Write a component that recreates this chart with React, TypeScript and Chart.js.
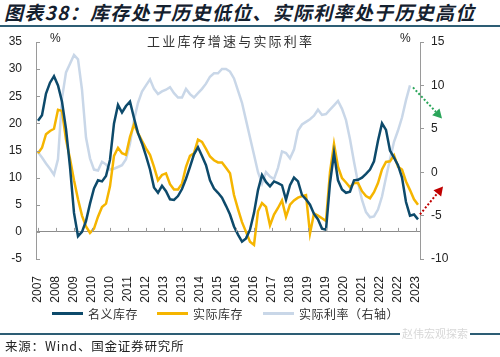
import React, { useEffect, useRef } from "react";
import { Chart, registerables } from "chart.js";

Chart.register(...registerables);

const xTickLabels = [
  "2007", "2008", "2009", "2010", "2010", "2011", "2012", "2013", "2013", "2014", "2015",
  "2016", "2016", "2017", "2018", "2019", "2019", "2020", "2021", "2022", "2022", "2023",
];

// 名义库存 (% y/y), every second month
const nominalInventory = [
  20.5, 21.5, 25.5, 27.5, 28.7, 27.0, 24.0, 19.0, 12.0, 3.5,
  -0.8, 0.0, 2.0, 5.2, 8.0, 9.5, 9.3, 10.3, 13.3, 20.0,
  23.4, 22.0, 23.2, 24.0, 21.0, 18.2, 16.3, 14.0, 11.5, 8.2,
  7.2, 8.5, 7.5, 6.0, 5.9, 6.6, 7.9, 9.8, 12.0, 14.3,
  15.6, 14.0, 12.3, 9.5, 8.0, 7.2, 6.3, 4.8, 3.2, 1.0,
  -0.5, -1.8, -1.2, 0.4, 3.5, 7.7, 10.5, 9.2, 8.4, 9.3,
  9.0, 8.6, 5.9, 8.6, 10.0, 9.3, 6.8, 6.0, 5.0, 3.3,
  2.3, 0.6, 0.4, 9.0, 14.5, 9.5, 7.8, 7.2, 7.4, 9.5,
  9.6, 10.0, 10.7, 11.5, 13.0, 16.8, 20.0, 18.8, 15.0, 13.7,
  12.3, 10.0, 5.5, 3.0, 3.2, 2.3,
];

// 实际库存 (% y/y)
const realInventory = [
  14.5, 15.5, 18.0, 18.6, 19.0, 22.5, 22.3, 17.0, 13.5, 9.5,
  6.0, 3.0, 1.0, -0.2, 0.6, 2.8, 4.6, 5.2, 8.4, 14.0,
  15.5, 14.5, 14.2, 17.5, 19.8, 18.2, 16.8, 15.4, 14.2, 12.0,
  9.5, 10.5, 10.8, 8.8, 7.8, 7.8, 8.9, 12.0, 14.0, 14.5,
  17.0, 16.6, 15.3, 13.9, 13.2, 12.8, 12.8, 11.8, 10.8, 6.8,
  4.2, 1.8, 0.0, -1.8, -2.4, 3.8, 5.3, 4.6, 1.2, 3.2,
  4.4, 5.8, 2.8, 5.0, 5.8, 6.3, 6.6, 6.8, -0.3, 3.4,
  3.0, 2.5, 2.0, 11.0, 16.2, 12.0, 9.9, 9.1, 8.2, 9.0,
  9.0, 7.5, 6.6, 6.2, 7.3, 9.0, 11.5, 12.9, 13.0, 14.1,
  12.0, 11.5, 9.3, 7.7, 6.0, 5.0,
];

// 实际利率 (%, right axis)
const realRate = [
  2.3, 1.7, 1.0, 0.4, -0.3, 1.5, 8.5, 11.5, 12.5, 13.5,
  13.0, 9.5, 4.0, 1.6, 0.3, 0.2, 1.2, 0.9, 0.3, 0.4,
  0.6, 0.8, 1.5, 3.3, 6.0, 8.0, 9.3, 10.0, 10.7, 9.6,
  9.0, 9.3, 9.5, 9.8, 9.1, 8.6, 8.6, 9.6, 9.0, 8.6,
  9.1, 9.6, 10.2, 11.0, 11.4, 11.4, 11.9, 11.9, 11.6, 10.8,
  9.4, 8.0, 6.0, 4.0, 2.0, 0.0, -1.3, 0.0, -0.5, -0.8,
  0.5, 2.4, 2.2, 1.6, 2.6, 4.8, 5.5, 5.8, 6.1, 6.5,
  7.2, 6.6, 6.7, 7.2, 7.7, 8.2, 7.3, 6.0, 3.8, 1.2,
  -1.2, -3.2, -4.6, -5.2, -5.1, -4.3, -2.8, -0.6, 1.5, 3.5,
  4.8, 6.3, 8.3, 10.0,
];

const monthsPerPoint = 2;
const monthsPerTick = 9;
const monthIndex = nominalInventory.map((_, i) => i * monthsPerPoint);

const seriesNames = ["名义库存", "实际库存", "实际利率（右轴）"];
const COLORS = ["#0d4a6b", "#f5b500", "#c9d7e8"];

const TICK_FONT = { family: "'Liberation Sans', Arial, sans-serif", size: 12 };
const CJK = "'Noto Sans CJK SC', 'Noto Sans', sans-serif";

function drawArrow(ctx: CanvasRenderingContext2D, x1: number, y1: number, x2: number, y2: number, color: string) {
  const ang = Math.atan2(y2 - y1, x2 - x1);
  const head = 9;
  const bx = x2 - head * Math.cos(ang);
  const by = y2 - head * Math.sin(ang);
  ctx.save();
  ctx.strokeStyle = color;
  ctx.fillStyle = color;
  ctx.lineWidth = 2;
  ctx.setLineDash([2, 2]);
  ctx.beginPath();
  ctx.moveTo(x1, y1);
  ctx.lineTo(bx, by);
  ctx.stroke();
  ctx.setLineDash([]);
  ctx.beginPath();
  ctx.moveTo(x2, y2);
  ctx.lineTo(bx + 5 * Math.sin(ang), by - 5 * Math.cos(ang));
  ctx.lineTo(bx - 5 * Math.sin(ang), by + 5 * Math.cos(ang));
  ctx.closePath();
  ctx.fill();
  ctx.restore();
}

const extrasPlugin = {
  id: "extras",
  afterDraw(chart: any) {
    const { ctx, chartArea, scales } = chart;
    const x = scales.x;
    const y = scales.y;
    const zeroY = y.getPixelForValue(0);
    ctx.save();
    ctx.strokeStyle = "#9a9a9a";
    ctx.lineWidth = 1;
    // inward ticks on left axis
    y.ticks.forEach((t: any) => {
      const py = Math.round(y.getPixelForValue(t.value)) + 0.5;
      ctx.beginPath();
      ctx.moveTo(chartArea.left, py);
      ctx.lineTo(chartArea.left + 4, py);
      ctx.stroke();
    });
    // category tick marks on the zero line
    x.ticks.forEach((t: any) => {
      const px = Math.round(x.getPixelForValue(t.value)) + 0.5;
      ctx.beginPath();
      ctx.moveTo(px, zeroY);
      ctx.lineTo(px, zeroY - 4);
      ctx.stroke();
    });
    ctx.restore();
    // arrows anchored to the last points
    const rateMeta = chart.getDatasetMeta(2).data;
    const nomMeta = chart.getDatasetMeta(0).data;
    const rEnd = rateMeta[rateMeta.length - 1];
    const nEnd = nomMeta[nomMeta.length - 1];
    if (rEnd) drawArrow(ctx, rEnd.x + 3, rEnd.y + 2, rEnd.x + 32, rEnd.y + 33, "#2aa55a");
    if (nEnd) drawArrow(ctx, nEnd.x + 2, nEnd.y - 5, nEnd.x + 25, nEnd.y - 33, "#c00000");
  },
};

export default function App() {
  const ref = useRef<HTMLCanvasElement>(null);

  useEffect(() => {
    if (!ref.current) return;
    const chart = new Chart(ref.current, {
      type: "line",
      data: {
        labels: monthIndex,
        datasets: [
          { label: seriesNames[0], data: nominalInventory, borderColor: COLORS[0], borderWidth: 2.5, pointRadius: 0, yAxisID: "y", tension: 0 },
          { label: seriesNames[1], data: realInventory, borderColor: COLORS[1], borderWidth: 2.5, pointRadius: 0, yAxisID: "y", tension: 0 },
          { label: seriesNames[2], data: realRate, borderColor: COLORS[2], borderWidth: 2.5, pointRadius: 0, yAxisID: "y1", tension: 0 },
        ],
      },
      options: {
        animation: false,
        responsive: false,
        maintainAspectRatio: false,
        layout: { padding: { top: 42, left: 0, right: 0, bottom: 0 } },
        plugins: { legend: { display: false }, tooltip: { enabled: false }, title: { display: false } },
        scales: {
          x: {
            type: "linear",
            min: -1,
            max: 191,
            afterBuildTicks: (scale: any) => {
              scale.ticks = xTickLabels.map((_, i) => ({ value: i * monthsPerTick }));
            },
            afterFit: (scale: any) => { scale.height = 98; },
            ticks: {
              autoSkip: false,
              minRotation: 90,
              maxRotation: 90,
              padding: 9,
              color: "#222",
              font: TICK_FONT,
              callback: (_v: any, i: number) => xTickLabels[i],
            },
            grid: { display: false },
            border: { display: false },
          },
          y: {
            position: "left",
            min: -5,
            max: 35,
            afterFit: (scale: any) => { scale.width = 36; },
            ticks: { stepSize: 5, padding: 14, color: "#222", font: TICK_FONT },
            grid: {
              drawTicks: false,
              color: (c: any) => (c.tick && c.tick.value === 0 ? "#8c8c8c" : "rgba(0,0,0,0)"),
            },
            border: { display: true, color: "#9a9a9a" },
          },
          y1: {
            position: "right",
            min: -10,
            max: 15,
            afterFit: (scale: any) => { scale.width = 80; },
            ticks: { stepSize: 5, padding: 7, color: "#222", font: TICK_FONT },
            grid: { drawOnChartArea: false, drawTicks: true, tickLength: 4, color: "#9a9a9a" },
            border: { display: true, color: "#9a9a9a" },
          },
        },
      },
      plugins: [extrasPlugin],
    } as any);
    return () => chart.destroy();
  }, []);

  const legendItem = (i: number, left: number) => (
    <div style={{ position: "absolute", left, top: 305, display: "flex", alignItems: "center" }}>
      <div style={{ width: 31, height: 3, background: COLORS[i], marginRight: 5 }} />
      <span style={{ fontFamily: CJK, fontSize: 12, color: "#333", letterSpacing: 0.5 }}>{seriesNames[i]}</span>
    </div>
  );

  return (
    <div style={{ position: "absolute", left: 0, top: 0, width: 500, height: 357, background: "#fff", overflow: "hidden" }}>
      <div style={{ position: "absolute", left: 4, top: 0, fontFamily: CJK, fontSize: 19, fontWeight: 700, fontStyle: "italic", color: "#14202e", letterSpacing: 1.3, whiteSpace: "nowrap", lineHeight: "24px" }}>
        图表38：库存处于历史低位、实际利率处于历史高位
      </div>
      <div style={{ position: "absolute", left: 0, top: 25, width: 500, height: 2, background: "#2d5d74" }} />
      <canvas ref={ref} width={500} height={357} style={{ position: "absolute", left: 0, top: 0 }} />
      <div style={{ position: "absolute", left: 147, top: 31, fontFamily: CJK, fontSize: 13, color: "#333", letterSpacing: 2.2, whiteSpace: "nowrap" }}>
        工业库存增速与实际利率
      </div>
      <div style={{ position: "absolute", left: 50, top: 31, fontFamily: "'Liberation Sans', Arial", fontSize: 12, color: "#222" }}>%</div>
      <div style={{ position: "absolute", left: 400, top: 31, fontFamily: "'Liberation Sans', Arial", fontSize: 12, color: "#222" }}>%</div>
      {legendItem(0, 52)}
      {legendItem(1, 157)}
      {legendItem(2, 263)}
      <div style={{ position: "absolute", left: 0, top: 333, width: 500, height: 2, background: "#2d5d74" }} />
      <div style={{ position: "absolute", left: 400, top: 325, fontFamily: CJK, fontSize: 11, color: "#d8d8d8", background: "#fff", padding: "0 2px", whiteSpace: "nowrap" }}>
        赵伟宏观探索
      </div>
      <div style={{ position: "absolute", left: 5, top: 337, fontFamily: CJK, fontSize: 12.5, color: "#222", letterSpacing: 0.8, whiteSpace: "nowrap", lineHeight: "17px" }}>
        来源：Wind、国金证券研究所
      </div>
    </div>
  );
}
